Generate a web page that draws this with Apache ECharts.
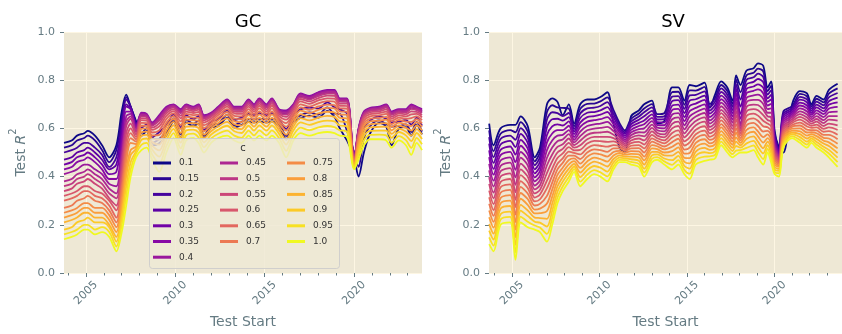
<!DOCTYPE html>
<html>
<head>
<meta charset="utf-8">
<script src="https://cdn.jsdelivr.net/npm/echarts@6/dist/echarts.min.js"></script>
<style>
  html, body { margin: 0; padding: 0; background: #ffffff; }
  #chart { width: 842px; height: 334px; }
</style>
</head>
<body>
<div id="chart"></div>
<script>
// Shrinkage levels c, one line per level in each panel
const cLevels = ['0.1','0.15','0.2','0.25','0.3','0.35','0.4','0.45','0.5','0.55','0.6','0.65','0.7','0.75','0.8','0.85','0.9','0.95','1.0'];

// Test-window start dates (decimal years) for the GC panel
const gcYears = [2003.77,2004.2,2004.5,2004.9,2005.1,2005.5,2005.9,2006.3,
  2006.7,2007.0,2007.25,2007.5,2007.8,2008.1,2008.4,2008.7,
  2009.1,2009.5,2009.9,2010.3,2010.6,2011.0,2011.3,2011.6,
  2012.0,2012.4,2012.9,2013.3,2013.7,2014.1,2014.4,2014.7,
  2015.1,2015.4,2015.8,2016.2,2016.6,2017.0,2017.5,2018.0,
  2018.5,2018.9,2019.2,2019.6,2020.0,2020.25,2020.55,2020.9,
  2021.4,2021.8,2022.1,2022.5,2022.9,2023.2,2023.5,2023.8];

// GC test R^2, one array per c
const gc010 = [0.54,0.55,0.57,0.58,0.59,0.57,0.53,0.48, 0.53,0.67,0.74,0.69,0.630,0.569,0.590,0.529, 0.538,0.572,0.630,0.562,0.625,0.609,0.620,0.559, 0.603,0.609,0.645,0.603,0.615,0.627,0.625,0.629, 0.625,0.629,0.610,0.554,0.625,0.643,0.653,0.645, 0.673,0.648,0.600,0.550,0.480,0.400,0.500,0.580, 0.623,0.607,0.530,0.599,0.605,0.570,0.615,0.575];
const gc015 = [0.52,0.53,0.55,0.56,0.57,0.55,0.51,0.46, 0.51,0.64,0.73,0.69,0.625,0.580,0.601,0.540, 0.556,0.586,0.641,0.576,0.637,0.619,0.633,0.570, 0.613,0.619,0.657,0.613,0.627,0.638,0.637,0.640, 0.637,0.640,0.621,0.568,0.637,0.654,0.666,0.657, 0.687,0.661,0.660,0.590,0.500,0.440,0.560,0.610, 0.633,0.618,0.607,0.609,0.617,0.585,0.627,0.587];
const gc020 = [0.50,0.51,0.52,0.54,0.54,0.52,0.49,0.44, 0.48,0.61,0.72,0.69,0.620,0.603,0.618,0.563, 0.585,0.614,0.658,0.604,0.655,0.638,0.652,0.593, 0.628,0.638,0.675,0.634,0.645,0.660,0.655,0.663, 0.655,0.663,0.638,0.597,0.655,0.679,0.686,0.682, 0.708,0.688,0.679,0.661,0.490,0.480,0.600,0.633, 0.650,0.640,0.625,0.628,0.635,0.616,0.645,0.612];
const gc025 = [0.47,0.48,0.50,0.51,0.52,0.50,0.47,0.43, 0.45,0.59,0.70,0.68,0.615,0.653,0.649,0.613, 0.636,0.675,0.689,0.665,0.688,0.680,0.687,0.643, 0.655,0.680,0.708,0.679,0.678,0.708,0.688,0.713, 0.688,0.713,0.669,0.659,0.688,0.732,0.722,0.736, 0.746,0.746,0.713,0.712,0.470,0.590,0.659,0.675, 0.679,0.688,0.658,0.670,0.668,0.683,0.678,0.666];
const gc030 = [0.45,0.46,0.48,0.49,0.50,0.48,0.45,0.41, 0.42,0.56,0.69,0.68,0.610,0.659,0.654,0.619, 0.646,0.682,0.694,0.672,0.694,0.685,0.694,0.649, 0.660,0.685,0.714,0.684,0.684,0.714,0.694,0.719, 0.694,0.719,0.674,0.667,0.694,0.738,0.728,0.743, 0.753,0.753,0.719,0.719,0.470,0.595,0.664,0.680, 0.685,0.694,0.664,0.675,0.674,0.692,0.684,0.673];
const gc035 = [0.43,0.44,0.46,0.47,0.48,0.46,0.43,0.39, 0.39,0.53,0.67,0.67,0.605,0.665,0.660,0.625, 0.655,0.690,0.700,0.680,0.700,0.690,0.700,0.655, 0.665,0.690,0.720,0.690,0.690,0.720,0.700,0.725, 0.700,0.725,0.680,0.675,0.700,0.745,0.735,0.750, 0.760,0.760,0.725,0.725,0.470,0.600,0.670,0.685, 0.690,0.700,0.670,0.680,0.680,0.700,0.690,0.680];
const gc040 = [0.41,0.42,0.43,0.45,0.45,0.43,0.41,0.37, 0.36,0.50,0.65,0.66,0.600,0.662,0.657,0.622, 0.650,0.686,0.697,0.676,0.697,0.687,0.697,0.652, 0.663,0.687,0.717,0.687,0.687,0.717,0.697,0.722, 0.697,0.722,0.677,0.671,0.697,0.742,0.732,0.747, 0.757,0.756,0.722,0.722,0.468,0.597,0.667,0.682, 0.687,0.697,0.667,0.677,0.677,0.696,0.687,0.677];
const gc045 = [0.38,0.39,0.41,0.42,0.43,0.41,0.39,0.35, 0.33,0.48,0.63,0.65,0.590,0.657,0.653,0.617, 0.643,0.681,0.693,0.671,0.693,0.684,0.692,0.647, 0.659,0.684,0.713,0.683,0.683,0.713,0.693,0.717, 0.693,0.717,0.673,0.665,0.693,0.737,0.727,0.742, 0.751,0.751,0.717,0.717,0.466,0.594,0.663,0.679, 0.683,0.693,0.663,0.674,0.673,0.690,0.683,0.672];
const gc050 = [0.36,0.37,0.39,0.40,0.41,0.39,0.37,0.33, 0.31,0.45,0.61,0.64,0.585,0.651,0.647,0.611, 0.634,0.673,0.687,0.663,0.687,0.678,0.686,0.641, 0.654,0.678,0.707,0.677,0.677,0.707,0.687,0.711, 0.687,0.711,0.667,0.657,0.687,0.730,0.720,0.735, 0.744,0.744,0.711,0.711,0.464,0.588,0.657,0.673, 0.678,0.687,0.657,0.668,0.667,0.681,0.677,0.665];
const gc055 = [0.34,0.35,0.37,0.38,0.39,0.37,0.35,0.31, 0.28,0.42,0.58,0.62,0.575,0.643,0.640,0.603, 0.622,0.663,0.680,0.653,0.679,0.672,0.678,0.633, 0.648,0.672,0.699,0.670,0.669,0.699,0.679,0.703, 0.679,0.703,0.660,0.648,0.679,0.722,0.712,0.726, 0.736,0.735,0.703,0.703,0.461,0.582,0.650,0.667, 0.671,0.679,0.649,0.662,0.659,0.671,0.669,0.656];
const gc060 = [0.32,0.33,0.34,0.36,0.36,0.34,0.33,0.30, 0.26,0.39,0.55,0.60,0.565,0.634,0.632,0.594, 0.608,0.652,0.672,0.642,0.670,0.664,0.668,0.624, 0.640,0.664,0.690,0.662,0.660,0.690,0.670,0.694, 0.670,0.694,0.652,0.636,0.670,0.712,0.702,0.716, 0.725,0.724,0.694,0.693,0.458,0.574,0.642,0.659, 0.663,0.670,0.640,0.654,0.650,0.658,0.660,0.646];
const gc065 = [0.30,0.31,0.32,0.34,0.34,0.32,0.31,0.28, 0.23,0.36,0.52,0.58,0.555,0.623,0.622,0.583, 0.592,0.639,0.662,0.629,0.660,0.655,0.657,0.613, 0.631,0.655,0.680,0.652,0.650,0.680,0.660,0.683, 0.660,0.683,0.642,0.622,0.660,0.700,0.690,0.704, 0.713,0.711,0.683,0.682,0.455,0.565,0.632,0.650, 0.654,0.660,0.630,0.645,0.640,0.643,0.650,0.634];
const gc070 = [0.27,0.28,0.30,0.31,0.32,0.30,0.29,0.26, 0.21,0.34,0.49,0.56,0.545,0.611,0.611,0.571, 0.573,0.624,0.651,0.614,0.648,0.645,0.644,0.601, 0.621,0.645,0.668,0.641,0.638,0.668,0.648,0.671, 0.648,0.671,0.631,0.607,0.648,0.687,0.677,0.691, 0.699,0.697,0.671,0.669,0.452,0.555,0.621,0.640, 0.643,0.648,0.618,0.635,0.628,0.627,0.638,0.621];
const gc075 = [0.25,0.26,0.27,0.29,0.29,0.27,0.27,0.24, 0.19,0.31,0.46,0.54,0.535,0.598,0.600,0.558, 0.554,0.608,0.640,0.598,0.636,0.634,0.631,0.588, 0.611,0.634,0.656,0.630,0.626,0.656,0.636,0.658, 0.636,0.658,0.620,0.591,0.636,0.674,0.664,0.677, 0.685,0.683,0.658,0.656,0.449,0.544,0.610,0.629, 0.632,0.636,0.606,0.624,0.616,0.610,0.626,0.607];
const gc080 = [0.23,0.24,0.25,0.27,0.27,0.25,0.25,0.22, 0.17,0.28,0.43,0.51,0.525,0.584,0.587,0.544, 0.533,0.591,0.627,0.581,0.622,0.622,0.617,0.574, 0.600,0.622,0.642,0.617,0.612,0.642,0.622,0.644, 0.622,0.644,0.607,0.574,0.622,0.659,0.649,0.662, 0.669,0.666,0.644,0.642,0.446,0.532,0.597,0.617, 0.620,0.622,0.592,0.612,0.602,0.591,0.612,0.592];
const gc085 = [0.21,0.22,0.23,0.25,0.25,0.23,0.23,0.20, 0.15,0.25,0.40,0.49,0.515,0.569,0.573,0.529, 0.509,0.572,0.613,0.562,0.607,0.609,0.601,0.559, 0.588,0.609,0.627,0.603,0.597,0.627,0.607,0.629, 0.607,0.629,0.593,0.554,0.607,0.643,0.633,0.645, 0.652,0.648,0.629,0.626,0.442,0.519,0.583,0.604, 0.606,0.607,0.577,0.599,0.587,0.570,0.597,0.575];
const gc090 = [0.18,0.19,0.21,0.22,0.23,0.21,0.21,0.19, 0.13,0.23,0.36,0.46,0.505,0.552,0.558,0.512, 0.483,0.551,0.598,0.541,0.591,0.595,0.583,0.542, 0.574,0.595,0.611,0.588,0.581,0.611,0.591,0.612, 0.591,0.612,0.578,0.533,0.591,0.625,0.615,0.626, 0.632,0.629,0.612,0.608,0.438,0.505,0.568,0.590, 0.591,0.591,0.561,0.585,0.571,0.547,0.581,0.556];
const gc095 = [0.16,0.17,0.18,0.20,0.20,0.18,0.19,0.17, 0.11,0.20,0.32,0.43,0.495,0.532,0.540,0.492, 0.453,0.527,0.580,0.517,0.571,0.578,0.562,0.522, 0.558,0.578,0.591,0.570,0.561,0.591,0.571,0.592, 0.571,0.592,0.560,0.507,0.571,0.603,0.593,0.604, 0.610,0.605,0.592,0.587,0.434,0.488,0.550,0.573, 0.574,0.571,0.541,0.568,0.551,0.519,0.561,0.534];
const gc100 = [0.14,0.15,0.16,0.18,0.18,0.16,0.17,0.15, 0.09,0.17,0.28,0.40,0.480,0.510,0.520,0.470, 0.420,0.500,0.560,0.490,0.550,0.560,0.540,0.500, 0.540,0.560,0.570,0.550,0.540,0.570,0.550,0.570, 0.550,0.570,0.540,0.480,0.550,0.580,0.570,0.580, 0.585,0.580,0.570,0.565,0.430,0.470,0.530,0.555, 0.555,0.550,0.520,0.550,0.530,0.490,0.540,0.510];

// Test-window start dates (decimal years) for the SV panel
const svYears = [2003.7,2003.95,2004.35,2004.9,2005.2,2005.5,2005.9,2006.3,
  2006.6,2007.0,2007.3,2007.6,2007.9,2008.25,2008.55,2008.9,
  2009.3,2009.7,2010.05,2010.45,2010.8,2011.15,2011.45,2011.8,
  2012.25,2012.55,2013.0,2013.3,2013.7,2014.15,2014.5,2014.85,
  2015.15,2015.5,2016.0,2016.3,2016.6,2016.95,2017.3,2017.6,
  2017.8,2018.05,2018.4,2018.8,2019.05,2019.35,2019.6,2019.8,
  2020.0,2020.25,2020.5,2021.0,2021.45,2021.85,2022.1,2022.4,
  2022.8,2023.1,2023.6];

// SV test R^2, one array per c
const sv010 = [0.620,0.530,0.600,0.615,0.615,0.650,0.610,0.480, 0.520,0.700,0.725,0.710,0.655,0.700,0.620,0.700, 0.720,0.720,0.730,0.750,0.620,0.520,0.500,0.650, 0.675,0.700,0.715,0.620,0.630,0.770,0.770,0.715, 0.780,0.775,0.790,0.685,0.740,0.795,0.770,0.715, 0.820,0.780,0.840,0.850,0.870,0.860,0.770,0.795, 0.590,0.520,0.500,0.700,0.755,0.745,0.700,0.735, 0.720,0.760,0.785];
const sv015 = [0.592,0.506,0.578,0.593,0.584,0.626,0.587,0.463, 0.501,0.668,0.696,0.687,0.685,0.682,0.609,0.681, 0.702,0.703,0.712,0.729,0.676,0.621,0.592,0.639, 0.662,0.683,0.701,0.659,0.663,0.751,0.752,0.698, 0.758,0.757,0.772,0.701,0.725,0.780,0.755,0.702, 0.802,0.750,0.821,0.831,0.848,0.837,0.755,0.776, 0.580,0.515,0.670,0.692,0.743,0.733,0.691,0.723, 0.708,0.744,0.766];
const sv020 = [0.564,0.481,0.556,0.570,0.553,0.601,0.563,0.447, 0.481,0.637,0.667,0.663,0.651,0.664,0.598,0.662, 0.683,0.686,0.693,0.709,0.661,0.611,0.584,0.628, 0.649,0.667,0.687,0.648,0.650,0.732,0.734,0.681, 0.737,0.739,0.754,0.688,0.711,0.766,0.740,0.689, 0.783,0.720,0.802,0.812,0.827,0.814,0.740,0.758, 0.570,0.510,0.661,0.684,0.731,0.720,0.682,0.711, 0.696,0.729,0.747];
const sv025 = [0.537,0.457,0.533,0.548,0.522,0.577,0.540,0.430, 0.462,0.605,0.638,0.640,0.632,0.647,0.587,0.643, 0.665,0.668,0.675,0.688,0.647,0.602,0.577,0.617, 0.636,0.650,0.673,0.637,0.638,0.713,0.717,0.664, 0.715,0.721,0.736,0.674,0.696,0.751,0.725,0.676, 0.765,0.690,0.783,0.793,0.805,0.792,0.725,0.739, 0.560,0.505,0.652,0.677,0.719,0.708,0.673,0.699, 0.683,0.713,0.728];
const sv030 = [0.509,0.432,0.511,0.525,0.491,0.552,0.517,0.413, 0.442,0.573,0.608,0.617,0.612,0.629,0.576,0.624, 0.647,0.651,0.657,0.668,0.632,0.592,0.569,0.606, 0.623,0.633,0.658,0.626,0.625,0.694,0.699,0.647, 0.693,0.703,0.718,0.661,0.681,0.736,0.710,0.663, 0.747,0.660,0.764,0.774,0.783,0.769,0.710,0.720, 0.550,0.500,0.644,0.669,0.707,0.695,0.664,0.687, 0.671,0.698,0.708];
const sv035 = [0.481,0.408,0.489,0.503,0.460,0.528,0.493,0.397, 0.423,0.542,0.579,0.593,0.593,0.611,0.564,0.606, 0.628,0.634,0.638,0.647,0.618,0.583,0.561,0.594, 0.610,0.617,0.644,0.614,0.613,0.676,0.681,0.630, 0.672,0.685,0.700,0.647,0.666,0.721,0.695,0.650, 0.728,0.640,0.746,0.756,0.762,0.746,0.695,0.702, 0.540,0.494,0.635,0.661,0.695,0.683,0.656,0.675, 0.659,0.682,0.689];
const sv040 = [0.453,0.383,0.467,0.480,0.428,0.503,0.470,0.380, 0.403,0.510,0.550,0.570,0.573,0.593,0.553,0.587, 0.610,0.617,0.620,0.627,0.603,0.573,0.553,0.583, 0.597,0.600,0.630,0.603,0.600,0.657,0.663,0.613, 0.650,0.667,0.682,0.633,0.652,0.707,0.680,0.637, 0.710,0.620,0.727,0.737,0.740,0.723,0.680,0.683, 0.530,0.488,0.626,0.653,0.683,0.670,0.647,0.663, 0.647,0.667,0.670];
const sv045 = [0.426,0.359,0.444,0.458,0.397,0.479,0.447,0.363, 0.384,0.478,0.521,0.547,0.554,0.576,0.542,0.568, 0.592,0.599,0.602,0.606,0.589,0.564,0.546,0.572, 0.584,0.583,0.616,0.592,0.588,0.638,0.646,0.596, 0.628,0.649,0.664,0.620,0.637,0.692,0.665,0.624, 0.692,0.610,0.708,0.718,0.718,0.701,0.665,0.665, 0.520,0.482,0.617,0.646,0.671,0.658,0.638,0.651, 0.634,0.651,0.651];
const sv050 = [0.398,0.334,0.422,0.435,0.366,0.454,0.423,0.347, 0.364,0.447,0.492,0.523,0.534,0.558,0.531,0.549, 0.573,0.582,0.583,0.586,0.574,0.554,0.538,0.561, 0.571,0.567,0.602,0.581,0.575,0.619,0.628,0.579, 0.607,0.631,0.646,0.606,0.622,0.677,0.650,0.611, 0.673,0.600,0.689,0.699,0.697,0.678,0.650,0.646, 0.510,0.476,0.608,0.638,0.659,0.645,0.629,0.639, 0.622,0.636,0.632];
const sv055 = [0.370,0.310,0.400,0.413,0.335,0.430,0.400,0.330, 0.345,0.415,0.463,0.500,0.515,0.540,0.520,0.530, 0.555,0.565,0.565,0.565,0.560,0.545,0.530,0.550, 0.558,0.550,0.588,0.570,0.563,0.600,0.610,0.563, 0.585,0.613,0.628,0.593,0.608,0.663,0.635,0.598, 0.655,0.590,0.670,0.680,0.675,0.655,0.635,0.628, 0.500,0.470,0.599,0.630,0.648,0.633,0.620,0.628, 0.610,0.620,0.613];
const sv060 = [0.342,0.286,0.378,0.390,0.304,0.406,0.377,0.313, 0.326,0.383,0.433,0.477,0.496,0.522,0.509,0.511, 0.537,0.548,0.547,0.544,0.546,0.536,0.522,0.539, 0.544,0.533,0.573,0.559,0.550,0.581,0.592,0.546, 0.563,0.594,0.609,0.579,0.593,0.648,0.620,0.584, 0.637,0.580,0.651,0.661,0.653,0.632,0.620,0.609, 0.490,0.464,0.591,0.622,0.636,0.620,0.611,0.616, 0.598,0.604,0.594];
const sv065 = [0.314,0.261,0.356,0.368,0.273,0.381,0.353,0.297, 0.306,0.352,0.404,0.453,0.476,0.504,0.498,0.492, 0.518,0.531,0.528,0.524,0.531,0.526,0.514,0.528, 0.531,0.517,0.559,0.548,0.538,0.562,0.574,0.529, 0.542,0.576,0.591,0.565,0.578,0.633,0.605,0.571, 0.618,0.570,0.632,0.642,0.632,0.609,0.605,0.590, 0.480,0.458,0.582,0.614,0.624,0.608,0.602,0.604, 0.586,0.589,0.574];
const sv070 = [0.287,0.237,0.333,0.345,0.242,0.357,0.330,0.280, 0.287,0.320,0.375,0.430,0.457,0.487,0.487,0.473, 0.500,0.513,0.510,0.503,0.517,0.517,0.507,0.517, 0.518,0.500,0.545,0.537,0.525,0.543,0.557,0.512, 0.520,0.558,0.573,0.552,0.563,0.618,0.590,0.558, 0.600,0.560,0.613,0.623,0.610,0.587,0.590,0.572, 0.470,0.452,0.573,0.607,0.612,0.595,0.593,0.592, 0.573,0.573,0.555];
const sv075 = [0.259,0.212,0.311,0.323,0.211,0.332,0.307,0.263, 0.267,0.288,0.346,0.407,0.437,0.469,0.476,0.454, 0.482,0.496,0.492,0.483,0.502,0.507,0.499,0.506, 0.505,0.483,0.531,0.526,0.513,0.524,0.539,0.495, 0.498,0.540,0.555,0.538,0.549,0.604,0.575,0.545, 0.582,0.550,0.594,0.604,0.588,0.564,0.575,0.553, 0.460,0.446,0.564,0.599,0.600,0.583,0.584,0.580, 0.561,0.558,0.536];
const sv080 = [0.231,0.188,0.289,0.300,0.180,0.308,0.283,0.247, 0.248,0.257,0.317,0.383,0.418,0.451,0.464,0.436, 0.463,0.479,0.473,0.462,0.488,0.498,0.491,0.494, 0.492,0.467,0.517,0.514,0.500,0.506,0.521,0.478, 0.477,0.522,0.537,0.525,0.534,0.589,0.560,0.532, 0.563,0.540,0.576,0.586,0.567,0.541,0.560,0.534, 0.450,0.440,0.555,0.591,0.588,0.570,0.576,0.568, 0.549,0.542,0.517];
const sv085 = [0.203,0.163,0.267,0.278,0.148,0.283,0.260,0.230, 0.228,0.225,0.288,0.360,0.398,0.433,0.453,0.417, 0.445,0.462,0.455,0.442,0.473,0.488,0.483,0.483, 0.479,0.450,0.503,0.503,0.488,0.487,0.503,0.461, 0.455,0.504,0.519,0.511,0.519,0.574,0.545,0.519, 0.545,0.530,0.557,0.567,0.545,0.518,0.545,0.516, 0.440,0.432,0.546,0.583,0.576,0.558,0.567,0.556, 0.537,0.527,0.498];
const sv090 = [0.176,0.139,0.244,0.255,0.117,0.259,0.237,0.213, 0.209,0.193,0.258,0.337,0.379,0.416,0.442,0.398, 0.427,0.444,0.437,0.421,0.459,0.479,0.476,0.472, 0.466,0.433,0.488,0.492,0.475,0.468,0.486,0.444, 0.433,0.486,0.501,0.497,0.505,0.560,0.530,0.506, 0.527,0.520,0.538,0.548,0.523,0.496,0.530,0.497, 0.430,0.424,0.538,0.576,0.564,0.545,0.558,0.544, 0.524,0.511,0.479];
const sv095 = [0.148,0.114,0.222,0.233,0.086,0.234,0.213,0.197, 0.189,0.162,0.229,0.313,0.359,0.398,0.431,0.379, 0.408,0.427,0.418,0.401,0.444,0.469,0.468,0.461, 0.453,0.417,0.474,0.481,0.463,0.449,0.468,0.427, 0.412,0.468,0.483,0.484,0.490,0.545,0.515,0.493, 0.508,0.510,0.519,0.529,0.502,0.473,0.515,0.479, 0.420,0.414,0.529,0.568,0.552,0.533,0.549,0.532, 0.512,0.496,0.460];
const sv100 = [0.120,0.090,0.200,0.210,0.055,0.210,0.190,0.180, 0.170,0.130,0.200,0.290,0.340,0.380,0.420,0.360, 0.390,0.410,0.400,0.380,0.430,0.460,0.460,0.450, 0.440,0.400,0.460,0.470,0.450,0.430,0.450,0.410, 0.390,0.450,0.465,0.470,0.475,0.530,0.500,0.480, 0.490,0.500,0.500,0.510,0.480,0.450,0.500,0.460, 0.410,0.400,0.520,0.560,0.540,0.520,0.540,0.520, 0.500,0.480,0.440];

// Axis ticks
const majorYears = [2005, 2010, 2015, 2020];
const minorYears = [2004,2006,2007,2008,2009,2011,2012,2013,2014,2016,2017,2018,2019,2021,2022,2023];

const gcRows = [gc010,gc015,gc020,gc025,gc030,gc035,gc040,gc045,gc050,gc055,gc060,gc065,gc070,gc075,gc080,gc085,gc090,gc095,gc100];
const svRows = [sv010,sv015,sv020,sv025,sv030,sv035,sv040,sv045,sv050,sv055,sv060,sv065,sv070,sv075,sv080,sv085,sv090,sv095,sv100];

// plasma colormap
const plasmaStops = ['#0d0887','#41049d','#6a00a8','#8f0da4','#b12a90','#cc4778','#e16462','#f2844b','#fca636','#fcce25','#f0f921'];
function hexRgb(h) { return [1,3,5].map(k => parseInt(h.slice(k, k + 2), 16)); }
function plasma(t) {
  const p = Math.max(0, Math.min(1, t)) * 10;
  const k = Math.min(9, Math.floor(p));
  const f = p - k;
  const a = hexRgb(plasmaStops[k]), b = hexRgb(plasmaStops[k + 1]);
  const c = a.map((v, j) => Math.round(v + (b[j] - v) * f));
  return 'rgb(' + c.join(',') + ')';
}

const FONT = 'DejaVu Sans';
const TICK = '#657b83';
const PANEL_BG = '#eee8d5';
const GRID_LINE = '#fdf6e3';

const grids = [
  { left: 64, top: 32, width: 358, height: 241 },
  { left: 489, top: 32, width: 358, height: 241 }
];
const xRanges = [[2003.77, 2023.8], [2003.69, 2023.85]];

function mainX(gi) {
  return {
    type: 'value', gridIndex: gi, min: xRanges[gi][0], max: xRanges[gi][1], position: 'bottom',
    name: 'Test Start', nameLocation: 'middle', nameGap: 42,
    nameTextStyle: { color: TICK, fontSize: 14, fontFamily: FONT },
    axisLine: { show: false },
    axisTick: { show: true, length: 4, customValues: majorYears, lineStyle: { color: TICK, width: 1 } },
    axisLabel: { customValues: majorYears, rotate: 45, align: 'center', verticalAlign: 'middle', margin: 20,
      color: TICK, fontSize: 11, fontFamily: FONT, formatter: v => String(v) },
    splitLine: { show: true, customValues: majorYears, lineStyle: { color: GRID_LINE, width: 1 } }
  };
}
function minorX(gi) {
  return {
    type: 'value', gridIndex: gi, min: xRanges[gi][0], max: xRanges[gi][1], position: 'bottom',
    axisLine: { show: false },
    axisTick: { show: true, length: 2.5, customValues: minorYears, lineStyle: { color: TICK, width: 1 } },
    axisLabel: { show: false },
    splitLine: { show: false }
  };
}
function yAxisFor(gi) {
  return {
    type: 'value', gridIndex: gi, min: 0, max: 1, interval: 0.2,
    name: '{b|Test }{it|R}{sup|2}', nameLocation: 'middle', nameGap: 36,
    nameTextStyle: {
      color: TICK, fontSize: 14, fontFamily: FONT,
      rich: {
        b: { color: TICK, fontSize: 14, fontFamily: FONT, lineHeight: 20, verticalAlign: 'bottom' },
        it: { color: TICK, fontSize: 14, fontFamily: FONT, fontStyle: 'italic', lineHeight: 20, verticalAlign: 'bottom' },
        sup: { color: TICK, fontSize: 10, fontFamily: FONT, lineHeight: 20, verticalAlign: 'top' }
      }
    },
    axisLine: { show: false },
    axisTick: { show: true, length: 4, lineStyle: { color: TICK, width: 1 } },
    axisLabel: { color: TICK, fontSize: 11, fontFamily: FONT, margin: 9, formatter: v => v.toFixed(1) },
    splitLine: { show: true, lineStyle: { color: GRID_LINE, width: 1 } }
  };
}

const series = [];
[[gcYears, gcRows], [svYears, svRows]].forEach(([years, rows], p) => {
  rows.forEach((vals, i) => {
    const col = plasma(i / (cLevels.length - 1));
    series.push({
      type: 'line', name: cLevels[i], xAxisIndex: p * 2, yAxisIndex: p,
      data: years.map((x, j) => [x, vals[j]]),
      showSymbol: false, symbol: 'none', smooth: 0.3, silent: true,
      lineStyle: { color: col, width: 1.8 }, itemStyle: { color: col },
      emphasis: { disabled: true }
    });
  });
});

function legendCol(names, left) {
  return {
    data: names, left: left, top: 157, orient: 'vertical', padding: 0,
    icon: 'rect', itemWidth: 18, itemHeight: 3, itemGap: 3.7, selectedMode: false, z: 10,
    textStyle: { fontSize: 9, lineHeight: 12, color: '#333333', fontFamily: FONT, padding: [0, 0, 0, 3] }
  };
}

const option = {
  animation: false,
  backgroundColor: '#ffffff',
  title: [
    { text: 'GC', left: 243, top: 8, textAlign: 'center', textStyle: { fontSize: 18, fontWeight: 'normal', color: '#000', fontFamily: FONT } },
    { text: 'SV', left: 668, top: 8, textAlign: 'center', textStyle: { fontSize: 18, fontWeight: 'normal', color: '#000', fontFamily: FONT } }
  ],
  grid: grids.map(g => Object.assign({ show: true, backgroundColor: PANEL_BG, borderWidth: 0, containLabel: false }, g)),
  xAxis: [mainX(0), minorX(0), mainX(1), minorX(1)],
  yAxis: [yAxisFor(0), yAxisFor(1)],
  legend: [
    legendCol(cLevels.slice(0, 7), 153),
    legendCol(cLevels.slice(7, 13), 220),
    legendCol(cLevels.slice(13), 287)
  ],
  graphic: {
    elements: [
      { type: 'rect', z: 5, silent: true,
        shape: { x: 149.5, y: 138.5, width: 190, height: 130, r: 3 },
        style: { fill: 'rgba(238,232,213,0.8)', stroke: 'rgba(204,204,204,0.9)', lineWidth: 1 } },
      { type: 'text', z: 11, silent: true,
        style: { text: 'c', x: 243, y: 148, align: 'center', verticalAlign: 'middle', font: '10px "DejaVu Sans"', fill: '#333333' } }
    ]
  },
  series: series
};

const chart = echarts.init(document.getElementById('chart'), null, { renderer: 'canvas' });
chart.setOption(option);
</script>
</body>
</html>
